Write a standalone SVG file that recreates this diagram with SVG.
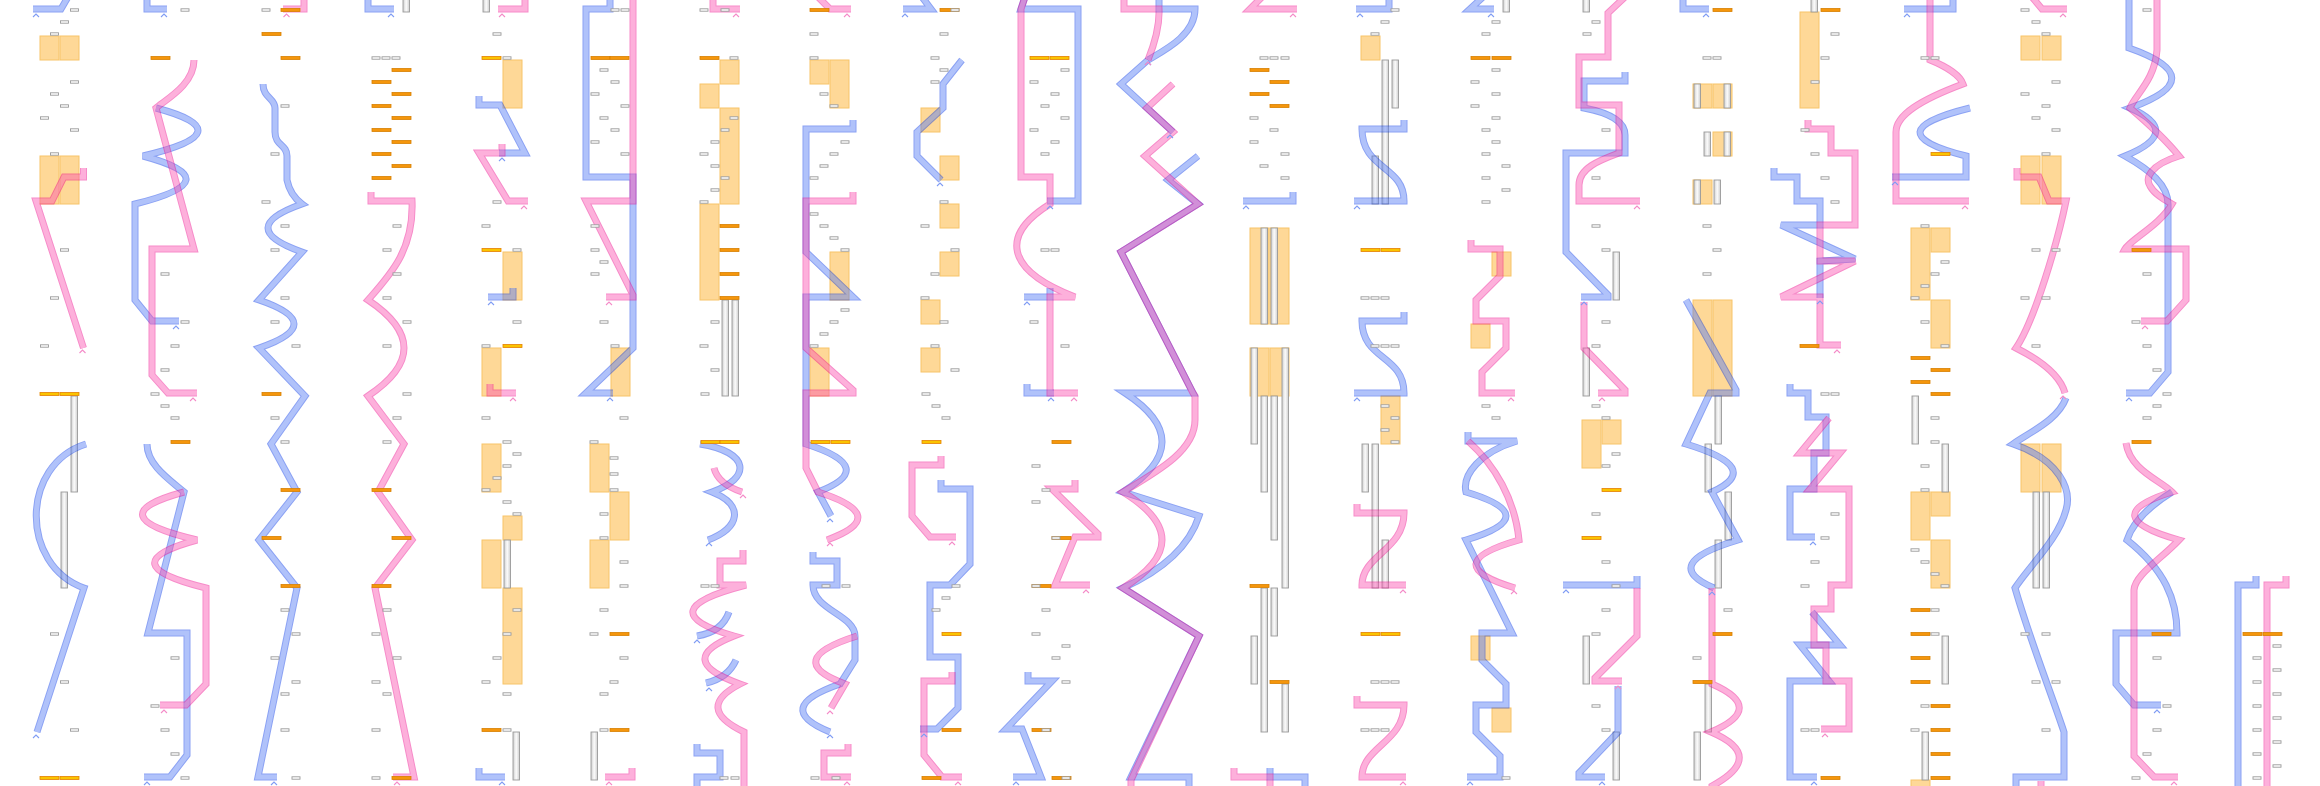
<svg xmlns="http://www.w3.org/2000/svg" xmlns:xlink="http://www.w3.org/1999/xlink" width="2320" height="786" viewBox="0 0 2320 786">
<style>
.bx{fill:#fed897;stroke:#f7c468;stroke-width:1}
.bd{fill:url(#gb);stroke:#9a9a9a;stroke-width:.9}
.B,.P{opacity:.45}
.B .e{fill:none;stroke:#0033e6;stroke-width:7}
.B .f{fill:none;stroke:#527af6;stroke-width:5}
.P .e{fill:none;stroke:#ed0289;stroke-width:7}
.P .f{fill:none;stroke:#fb52b1;stroke-width:5}
</style>
<defs>
<linearGradient id="gy" x1="0" y1="0" x2="0" y2="1"><stop offset="0" stop-color="#f28c00"/><stop offset=".5" stop-color="#ffe000"/><stop offset="1" stop-color="#f28c00"/></linearGradient>
<linearGradient id="gb" x1="0" y1="0" x2="1" y2="0"><stop offset="0" stop-color="#cfcfcf"/><stop offset=".5" stop-color="#fbfbfb"/><stop offset="1" stop-color="#cfcfcf"/></linearGradient>
<rect id="r" x="0" y="-1.2" width="8" height="2.4" fill="#fff" stroke="#9a9a9a" stroke-width=".9"/>
<rect id="o" x="0" y="-1.5" width="19" height="3" fill="#f5960c" stroke="#d77f00" stroke-width=".8"/>
<rect id="g" x="0" y="-1.5" width="19" height="3" fill="url(#gy)" stroke="#e58600" stroke-width=".8"/>
<polyline id="cb" points="-3,3 0,0 3,3" fill="none" stroke="#7f9cf4" stroke-width="1.1"/>
<polyline id="cp" points="-3,3 0,0 3,3" fill="none" stroke="#f48bc8" stroke-width="1.1"/>
<path id="b1" d="M68 -3 L61 9 L33 9"/>
<path id="b2" d="M86 444 C20 465 20 565 84 588 L37 732"/>
<path id="b3" d="M147 -3 L147 9 L167 9"/>
<path id="b4" d="M156 108 Q246 132 143 156 Q233 180 135 204 L135 300 L152 321 L179 321"/>
<path id="b5" d="M147 444 C147 465 170 480 184 492 L148 633 L187 633 L187 755 L170 777 L144 777"/>
<path id="b6" d="M263 84 C263 98 275 98 275 108 L275 132 C275 146 287 144 287 156 L287 180 Q290 195 302 204 Q234 228 302 252 L259 300 Q329 324 259 348 L305 396 L271 444 L297 492 L259 540 L297 588 L258 777 L277 777"/>
<path id="b7" d="M368 -3 L368 9 L394 9"/>
<path id="b8" d="M479 96 L479 105 L500 105 L525 153 L499 153"/>
<path id="b9" d="M513 288 L513 297 L488 297"/>
<path id="b10" d="M479 768 L479 777 L505 777"/>
<path id="b11" d="M610 -3 L610 9 L586 9 L586 177 L633 177 L633 348 L586 393 L613 393"/>
<path id="b12" d="M700 444 C750 452 752 478 712 492 C745 505 740 528 708 540"/>
<path id="b13" d="M729 612 Q722 632 697 636"/>
<path id="b14" d="M736 660 Q728 678 706 683"/>
<path id="b15" d="M697 744 L697 753 L720 753 L720 777 L697 777 L697 790"/>
<path id="b16" d="M853 120 L853 129 L806 129 L806 252 L853 297 L806 297 L806 444 Q880 468 818 492 L831 516"/>
<path id="b17" d="M813 552 L813 561 L837 561 L837 585 L813 585 C813 610 855 615 855 636 L855 660 L840 684 Q771 708 830 732"/>
<path id="b18" d="M922 -3 L931 9 L903 9"/>
<path id="b19" d="M962 60 L943 84 L943 108 L917 132 L917 156 L941 180"/>
<path id="b20" d="M941 480 L941 489 L970 489 L970 564 L950 585 L930 585 L930 657 L958 657 L958 708 L937 729 L920 729"/>
<path id="b21" d="M1025 -3 L1021 9 L1078 9 L1078 201 L1047 201"/>
<path id="b22" d="M1050 288 L1050 297 L1024 297"/>
<path id="b23" d="M1027 384 L1027 393 L1054 393"/>
<path id="b24" d="M1028 672 L1028 681 L1052 681 L1006 729 L1022 729 L1041 777 L1013 777"/>
<path id="b25" d="M1159 -3 L1159 9 L1195 9 C1195 35 1165 50 1148 60"/>
<path id="b26" d="M1148 60 L1121 84 L1173 132"/>
<path id="b27" d="M1198 156 L1168 180 L1198 204 L1121 252 L1193 393 L1125 393 Q1200 442 1123 492 L1199 516 Q1185 560 1123 588 L1199 636 L1131 777 L1189 777 L1189 790"/>
<path id="b28" d="M1293 192 L1293 201 L1243 201"/>
<path id="b29" d="M1270 768 L1270 777 L1305 777 L1305 790"/>
<path id="b30" d="M1389 -3 L1389 9 L1356 9"/>
<path id="b31" d="M1404 120 L1404 129 L1362 129 C1362 170 1404 165 1404 201 L1354 201"/>
<path id="b32" d="M1404 312 L1404 321 L1362 321 C1362 360 1404 355 1404 393 L1354 393"/>
<path id="b33" d="M1483 -3 L1470 9 L1494 9"/>
<path id="b34" d="M1468 432 L1468 441 L1517 441 C1480 452 1462 475 1466 492 Q1546 516 1466 540 L1512 633 L1482 633 L1482 660 L1506 684 L1506 705 L1476 705 L1476 732 L1500 756 L1500 777 L1467 777"/>
<path id="b35" d="M1625 72 L1625 81 L1584 81 L1584 108 C1605 112 1625 120 1625 135 L1625 153 L1566 153 L1566 252 L1608 295 L1608 297 L1581 297"/>
<path id="b36" d="M1637 576 L1637 585 L1563 585"/>
<path id="b37" d="M1618 686 L1618 732 L1579 773 L1579 777 L1605 777"/>
<path id="b38" d="M1683 -3 L1683 9 L1709 9"/>
<path id="b39" d="M1686 300 L1736 390 L1736 393 L1710 393 L1686 444 Q1765 468 1712 492 L1738 540 Q1658 564 1714 588"/>
<path id="b40" d="M1774 168 L1774 177 L1797 177 L1797 201 L1820 201 L1820 225 L1781 225 L1855 259 L1820 261 L1820 298"/>
<path id="b41" d="M1790 384 L1790 393 L1808 393 L1808 417 L1826 417 L1826 453 L1814 453 L1814 489 L1790 489 L1790 537 L1815 537"/>
<path id="b42" d="M1812 612 L1840 645 L1800 645 L1829 681 L1790 681 L1790 777 L1817 777"/>
<path id="b43" d="M1953 -3 L1953 9 L1904 9"/>
<path id="b44" d="M1970 108 Q1872 132 1966 156 L1966 177 L1892 177"/>
<path id="b45" d="M2066 398 C2058 420 2030 432 2013 444 C2060 460 2072 490 2066 510 C2058 540 2030 565 2015 588 C2030 640 2050 690 2064 732 L2064 777 L2016 777 L2016 790"/>
<path id="b46" d="M2129 -3 L2129 48 Q2214 78 2130 108 Q2184 132 2125 156 C2150 170 2168 185 2168 204 L2168 372 L2150 393 L2126 393"/>
<path id="b47" d="M2172 492 Q2135 515 2127 540 C2165 570 2177 600 2177 633 L2116 633 L2116 684 L2134 705 L2161 705"/>
<path id="b48" d="M2256 576 L2256 585 L2238 585 L2238 790"/>
<path id="p1" d="M83.5 168 L83.5 177 L64 177 L52 201 L36 201 L83.5 348"/>
<path id="p2" d="M194 60 C194 85 165 100 156 108 L194 249 L152 249 L152 375 L168 393 L197 393"/>
<path id="p3" d="M184 492 Q95 516 197 540 Q108 564 206 588 L206 684 L186 705 L160 705"/>
<path id="p4" d="M304 -3 L304 9 L283 9"/>
<path id="p5" d="M371 192 L371 201 L412 201 C414 250 390 275 368 300 Q440 348 368 396 L404 444 L378 492 L412 540 L375 588 L414 777 L393 777"/>
<path id="p6" d="M525 -3 L525 9 L498 9"/>
<path id="p7" d="M502 144 L502 153 L479 153 L508 201 L528 201"/>
<path id="p8" d="M490 384 L490 393 L516 393"/>
<path id="p9" d="M633 -3 L633 201 L586 201 L633 295 L633 297 L606 297"/>
<path id="p10" d="M632 768 L632 777 L605 777"/>
<path id="p11" d="M713 -3 L713 9 L740 9"/>
<path id="p12" d="M714 468 Q718 484 742 492"/>
<path id="p13" d="M743 550 L743 561 L720 561 L720 585 L746 585 Q646 611 734 636 Q673 660 740 684 Q694 708 744 732 L744 790"/>
<path id="p14" d="M818 -3 L830 9 L851 9"/>
<path id="p15" d="M853 192 L853 201 L806 201 L806 348 L853 390 L853 393 L806 393 L806 468 L818 492 Q893 516 827 540"/>
<path id="p16" d="M857 636 Q781 660 845 684 L831 708"/>
<path id="p17" d="M848 744 L848 753 L824 753 L824 777 L851 777"/>
<path id="p18" d="M941 456 L941 465 L912 465 L912 516 L930 537 L956 537"/>
<path id="p19" d="M952 672 L952 681 L924 681 L924 755 L942 777 L962 777"/>
<path id="p20" d="M1025 -3 L1021 9 L1021 177 L1050 177 L1050 204 C1000 235 1005 270 1075 297 L1050 297 L1050 393 L1078 393"/>
<path id="p21" d="M1075 480 L1075 489 L1052 489 L1098 534 L1098 537 L1075 537 L1055 585 L1090 585"/>
<path id="p22" d="M1124 -3 L1124 9 L1159 9 C1160 30 1152 50 1148 60"/>
<path id="p23" d="M1173 84 L1147 108 L1173 132 L1145 156 L1198 204 L1121 252 L1193 393 L1195 396 L1195 420 C1195 450 1160 470 1123 492 Q1201 540 1123 588 L1199 636 L1131 780 L1131 790"/>
<path id="p24" d="M1262 -3 L1250 9 L1297 9"/>
<path id="p25" d="M1234 768 L1234 777 L1270 777 L1270 790"/>
<path id="p26" d="M1357 504 L1357 513 L1404 513 C1404 550 1362 555 1362 585 L1406 585"/>
<path id="p27" d="M1357 696 L1357 705 L1404 705 C1404 742 1362 747 1362 777 L1406 777"/>
<path id="p28" d="M1471 240 L1471 249 L1500 249 L1500 276 L1476 300 L1476 321 L1506 321 L1506 348 L1482 372 L1482 393 L1515 393"/>
<path id="p29" d="M1468 441 C1495 465 1515 500 1519 540 Q1435 564 1515 588"/>
<path id="p30" d="M1625 -3 L1608 13 L1608 57 L1579 57 L1579 105 L1619 105 L1619 153 C1600 160 1579 168 1579 185 L1579 201 L1640 201"/>
<path id="p31" d="M1584 302 L1584 348 L1625 390 L1625 393 L1598 393"/>
<path id="p32" d="M1637 588 L1637 636 L1595 678 L1595 681 L1622 681"/>
<path id="p33" d="M1712 588 L1712 684 Q1767 708 1711 732 Q1767 756 1712 786 L1712 790"/>
<path id="p34" d="M1808 120 L1808 129 L1831 129 L1831 153 L1855 153 L1855 225 L1820 225 L1820 261 L1855 261 L1781 297 L1820 297 L1820 345 L1841 345"/>
<path id="p35" d="M1829 418 L1800 453 L1840 453 L1810 489 L1849 489 L1849 585 L1831 585 L1831 609 L1814 609 L1814 645 L1826 645 L1826 681 L1849 681 L1849 729 L1821 729"/>
<path id="p36" d="M1930 -3 L1930 60 C1945 66 1960 75 1963 84 C1920 100 1896 115 1896 132 L1896 201 L1969 201"/>
<path id="p37" d="M2032 -3 L2042 9 L2067 9"/>
<path id="p38" d="M2017 168 L2017 177 L2039 177 L2049 201 L2066 201 C2058 240 2035 320 2016 348 C2040 360 2060 375 2065 393"/>
<path id="p39" d="M2041 781 L2041 790"/>
<path id="p40" d="M2157 -3 L2157 50 C2155 80 2135 95 2130 108 C2150 125 2170 145 2179 156 C2150 165 2145 178 2150 186 C2155 195 2165 200 2172 204 C2160 225 2130 240 2125 249 L2186 249 L2186 300 L2167 321 L2141 321"/>
<path id="p41" d="M2126 443 C2130 470 2160 480 2172 492 Q2094 516 2179 540 C2160 560 2135 575 2134 590 L2134 756 L2154 777 L2178 777"/>
<path id="p42" d="M2286 576 L2286 585 L2267 585 L2267 790"/>
</defs>
<rect width="2320" height="786" fill="#fff"/>

<g id="col1"><rect class="bx" x="40" y="36" width="19" height="24"/><rect class="bx" x="60" y="36" width="19" height="24"/><rect class="bx" x="40" y="156" width="19" height="48"/><rect class="bx" x="60" y="156" width="19" height="48"/><rect class="bd" x="71" y="396" width="6.5" height="96"/><rect class="bd" x="61" y="492" width="6.5" height="96"/></g>
<g id="col4"><rect class="bd" x="403" y="-2" width="6.5" height="14"/></g>
<g id="col5"><rect class="bd" x="483" y="-2" width="6.5" height="14"/><rect class="bx" x="503" y="60" width="19" height="48"/><rect class="bx" x="503" y="252" width="19" height="48"/><rect class="bx" x="482" y="348" width="19" height="48"/><rect class="bx" x="482" y="444" width="19" height="48"/><rect class="bx" x="503" y="516" width="19" height="24"/><rect class="bx" x="482" y="540" width="19" height="48"/><rect class="bx" x="503" y="588" width="19" height="96"/><rect class="bd" x="504" y="540" width="6.5" height="48"/><rect class="bd" x="513" y="732" width="6.5" height="48"/></g>
<g id="col6"><rect class="bx" x="611" y="348" width="19" height="48"/><rect class="bx" x="590" y="444" width="19" height="48"/><rect class="bx" x="610" y="492" width="19" height="48"/><rect class="bx" x="590" y="540" width="19" height="48"/><rect class="bd" x="591" y="732" width="6.5" height="48"/></g>
<g id="col7"><rect class="bx" x="720" y="60" width="19" height="24"/><rect class="bx" x="700" y="84" width="19" height="24"/><rect class="bx" x="720" y="108" width="19" height="96"/><rect class="bx" x="700" y="204" width="19" height="96"/><rect class="bd" x="722" y="300" width="6.5" height="96"/><rect class="bd" x="732" y="300" width="6.5" height="96"/></g>
<g id="col8"><rect class="bx" x="810" y="60" width="19" height="24"/><rect class="bx" x="830" y="60" width="19" height="48"/><rect class="bx" x="830" y="252" width="19" height="48"/><rect class="bx" x="810" y="348" width="19" height="48"/></g>
<g id="col9"><rect class="bx" x="921" y="108" width="19" height="24"/><rect class="bx" x="940" y="156" width="19" height="24"/><rect class="bx" x="940" y="204" width="19" height="24"/><rect class="bx" x="940" y="252" width="19" height="24"/><rect class="bx" x="921" y="300" width="19" height="24"/><rect class="bx" x="921" y="348" width="19" height="24"/></g>
<g id="col12"><rect class="bx" x="1250" y="228" width="19" height="96"/><rect class="bx" x="1270" y="228" width="19" height="96"/><rect class="bx" x="1250" y="348" width="19" height="48"/><rect class="bx" x="1270" y="348" width="19" height="48"/><rect class="bd" x="1261" y="228" width="6.5" height="96"/><rect class="bd" x="1271" y="228" width="6.5" height="96"/><rect class="bd" x="1251" y="348" width="6.5" height="96"/><rect class="bd" x="1261" y="396" width="6.5" height="96"/><rect class="bd" x="1271" y="396" width="6.5" height="144"/><rect class="bd" x="1282" y="348" width="6.5" height="240"/><rect class="bd" x="1261" y="588" width="6.5" height="144"/><rect class="bd" x="1271" y="588" width="6.5" height="48"/><rect class="bd" x="1251" y="636" width="6.5" height="48"/><rect class="bd" x="1282" y="684" width="6.5" height="48"/></g>
<g id="col13"><rect class="bx" x="1361" y="36" width="19" height="24"/><rect class="bx" x="1381" y="396" width="19" height="48"/><rect class="bd" x="1382" y="60" width="6.5" height="144"/><rect class="bd" x="1392" y="60" width="6.5" height="48"/><rect class="bd" x="1372" y="156" width="6.5" height="48"/><rect class="bd" x="1362" y="444" width="6.5" height="48"/><rect class="bd" x="1372" y="444" width="6.5" height="144"/><rect class="bd" x="1382" y="540" width="6.5" height="48"/></g>
<g id="col14"><rect class="bx" x="1492" y="252" width="19" height="24"/><rect class="bx" x="1471" y="324" width="19" height="24"/><rect class="bx" x="1471" y="636" width="19" height="24"/><rect class="bx" x="1492" y="708" width="19" height="24"/><rect class="bd" x="1503" y="-2" width="6.5" height="14"/></g>
<g id="col15"><rect class="bx" x="1582" y="420" width="19" height="48"/><rect class="bx" x="1602" y="420" width="19" height="24"/><rect class="bd" x="1583" y="-2" width="6.5" height="14"/><rect class="bd" x="1613" y="252" width="6.5" height="48"/><rect class="bd" x="1583" y="348" width="6.5" height="48"/><rect class="bd" x="1583" y="636" width="6.5" height="48"/><rect class="bd" x="1613" y="732" width="6.5" height="48"/></g>
<g id="col16"><rect class="bx" x="1693" y="84" width="19" height="24"/><rect class="bx" x="1713" y="84" width="19" height="24"/><rect class="bx" x="1713" y="132" width="19" height="24"/><rect class="bx" x="1693" y="180" width="19" height="24"/><rect class="bx" x="1693" y="300" width="19" height="96"/><rect class="bx" x="1713" y="300" width="19" height="96"/><rect class="bd" x="1694" y="84" width="6.5" height="24"/><rect class="bd" x="1724" y="84" width="6.5" height="24"/><rect class="bd" x="1704" y="132" width="6.5" height="24"/><rect class="bd" x="1724" y="132" width="6.5" height="24"/><rect class="bd" x="1694" y="180" width="6.5" height="24"/><rect class="bd" x="1714" y="180" width="6.5" height="24"/><rect class="bd" x="1715" y="396" width="6.5" height="48"/><rect class="bd" x="1705" y="444" width="6.5" height="48"/><rect class="bd" x="1725" y="492" width="6.5" height="48"/><rect class="bd" x="1715" y="540" width="6.5" height="48"/><rect class="bd" x="1705" y="684" width="6.5" height="48"/><rect class="bd" x="1694" y="732" width="6.5" height="48"/></g>
<g id="col17"><rect class="bx" x="1800" y="12" width="19" height="96"/><rect class="bd" x="1811" y="-2" width="6.5" height="14"/></g>
<g id="col18"><rect class="bx" x="1911" y="228" width="19" height="72"/><rect class="bx" x="1931" y="228" width="19" height="24"/><rect class="bx" x="1931" y="300" width="19" height="48"/><rect class="bx" x="1911" y="492" width="19" height="48"/><rect class="bx" x="1931" y="492" width="19" height="24"/><rect class="bx" x="1931" y="540" width="19" height="48"/><rect class="bx" x="1911" y="780" width="19" height="10"/><rect class="bd" x="1912" y="396" width="6.5" height="48"/><rect class="bd" x="1942" y="444" width="6.5" height="48"/><rect class="bd" x="1942" y="636" width="6.5" height="48"/><rect class="bd" x="1922" y="732" width="6.5" height="48"/></g>
<g id="col19"><rect class="bx" x="2021" y="36" width="19" height="24"/><rect class="bx" x="2042" y="36" width="19" height="24"/><rect class="bx" x="2021" y="156" width="19" height="48"/><rect class="bx" x="2042" y="156" width="19" height="48"/><rect class="bx" x="2021" y="444" width="19" height="48"/><rect class="bx" x="2042" y="444" width="19" height="48"/><rect class="bd" x="2033" y="492" width="6.5" height="96"/><rect class="bd" x="2043" y="492" width="6.5" height="96"/></g>

<g id="connectors">
<g class="B"><use href="#b1" class="e"/><use href="#b1" class="f"/></g>
<g class="B"><use href="#b2" class="e"/><use href="#b2" class="f"/></g>
<g class="B"><use href="#b3" class="e"/><use href="#b3" class="f"/></g>
<g class="B"><use href="#b4" class="e"/><use href="#b4" class="f"/></g>
<g class="B"><use href="#b5" class="e"/><use href="#b5" class="f"/></g>
<g class="B"><use href="#b6" class="e"/><use href="#b6" class="f"/></g>
<g class="B"><use href="#b7" class="e"/><use href="#b7" class="f"/></g>
<g class="B"><use href="#b8" class="e"/><use href="#b8" class="f"/></g>
<g class="B"><use href="#b9" class="e"/><use href="#b9" class="f"/></g>
<g class="B"><use href="#b10" class="e"/><use href="#b10" class="f"/></g>
<g class="B"><use href="#b11" class="e"/><use href="#b11" class="f"/></g>
<g class="B"><use href="#b12" class="e"/><use href="#b12" class="f"/></g>
<g class="B"><use href="#b13" class="e"/><use href="#b13" class="f"/></g>
<g class="B"><use href="#b14" class="e"/><use href="#b14" class="f"/></g>
<g class="B"><use href="#b15" class="e"/><use href="#b15" class="f"/></g>
<g class="B"><use href="#b16" class="e"/><use href="#b16" class="f"/></g>
<g class="B"><use href="#b17" class="e"/><use href="#b17" class="f"/></g>
<g class="B"><use href="#b18" class="e"/><use href="#b18" class="f"/></g>
<g class="B"><use href="#b19" class="e"/><use href="#b19" class="f"/></g>
<g class="B"><use href="#b20" class="e"/><use href="#b20" class="f"/></g>
<g class="B"><use href="#b21" class="e"/><use href="#b21" class="f"/></g>
<g class="B"><use href="#b22" class="e"/><use href="#b22" class="f"/></g>
<g class="B"><use href="#b23" class="e"/><use href="#b23" class="f"/></g>
<g class="B"><use href="#b24" class="e"/><use href="#b24" class="f"/></g>
<g class="B"><use href="#b25" class="e"/><use href="#b25" class="f"/></g>
<g class="B"><use href="#b26" class="e"/><use href="#b26" class="f"/></g>
<g class="B"><use href="#b27" class="e"/><use href="#b27" class="f"/></g>
<g class="B"><use href="#b28" class="e"/><use href="#b28" class="f"/></g>
<g class="B"><use href="#b29" class="e"/><use href="#b29" class="f"/></g>
<g class="B"><use href="#b30" class="e"/><use href="#b30" class="f"/></g>
<g class="B"><use href="#b31" class="e"/><use href="#b31" class="f"/></g>
<g class="B"><use href="#b32" class="e"/><use href="#b32" class="f"/></g>
<g class="B"><use href="#b33" class="e"/><use href="#b33" class="f"/></g>
<g class="B"><use href="#b34" class="e"/><use href="#b34" class="f"/></g>
<g class="B"><use href="#b35" class="e"/><use href="#b35" class="f"/></g>
<g class="B"><use href="#b36" class="e"/><use href="#b36" class="f"/></g>
<g class="B"><use href="#b37" class="e"/><use href="#b37" class="f"/></g>
<g class="B"><use href="#b38" class="e"/><use href="#b38" class="f"/></g>
<g class="B"><use href="#b39" class="e"/><use href="#b39" class="f"/></g>
<g class="B"><use href="#b40" class="e"/><use href="#b40" class="f"/></g>
<g class="B"><use href="#b41" class="e"/><use href="#b41" class="f"/></g>
<g class="B"><use href="#b42" class="e"/><use href="#b42" class="f"/></g>
<g class="B"><use href="#b43" class="e"/><use href="#b43" class="f"/></g>
<g class="B"><use href="#b44" class="e"/><use href="#b44" class="f"/></g>
<g class="B"><use href="#b45" class="e"/><use href="#b45" class="f"/></g>
<g class="B"><use href="#b46" class="e"/><use href="#b46" class="f"/></g>
<g class="B"><use href="#b47" class="e"/><use href="#b47" class="f"/></g>
<g class="B"><use href="#b48" class="e"/><use href="#b48" class="f"/></g>
<g class="P"><use href="#p1" class="e"/><use href="#p1" class="f"/></g>
<g class="P"><use href="#p2" class="e"/><use href="#p2" class="f"/></g>
<g class="P"><use href="#p3" class="e"/><use href="#p3" class="f"/></g>
<g class="P"><use href="#p4" class="e"/><use href="#p4" class="f"/></g>
<g class="P"><use href="#p5" class="e"/><use href="#p5" class="f"/></g>
<g class="P"><use href="#p6" class="e"/><use href="#p6" class="f"/></g>
<g class="P"><use href="#p7" class="e"/><use href="#p7" class="f"/></g>
<g class="P"><use href="#p8" class="e"/><use href="#p8" class="f"/></g>
<g class="P"><use href="#p9" class="e"/><use href="#p9" class="f"/></g>
<g class="P"><use href="#p10" class="e"/><use href="#p10" class="f"/></g>
<g class="P"><use href="#p11" class="e"/><use href="#p11" class="f"/></g>
<g class="P"><use href="#p12" class="e"/><use href="#p12" class="f"/></g>
<g class="P"><use href="#p13" class="e"/><use href="#p13" class="f"/></g>
<g class="P"><use href="#p14" class="e"/><use href="#p14" class="f"/></g>
<g class="P"><use href="#p15" class="e"/><use href="#p15" class="f"/></g>
<g class="P"><use href="#p16" class="e"/><use href="#p16" class="f"/></g>
<g class="P"><use href="#p17" class="e"/><use href="#p17" class="f"/></g>
<g class="P"><use href="#p18" class="e"/><use href="#p18" class="f"/></g>
<g class="P"><use href="#p19" class="e"/><use href="#p19" class="f"/></g>
<g class="P"><use href="#p20" class="e"/><use href="#p20" class="f"/></g>
<g class="P"><use href="#p21" class="e"/><use href="#p21" class="f"/></g>
<g class="P"><use href="#p22" class="e"/><use href="#p22" class="f"/></g>
<g class="P"><use href="#p23" class="e"/><use href="#p23" class="f"/></g>
<g class="P"><use href="#p24" class="e"/><use href="#p24" class="f"/></g>
<g class="P"><use href="#p25" class="e"/><use href="#p25" class="f"/></g>
<g class="P"><use href="#p26" class="e"/><use href="#p26" class="f"/></g>
<g class="P"><use href="#p27" class="e"/><use href="#p27" class="f"/></g>
<g class="P"><use href="#p28" class="e"/><use href="#p28" class="f"/></g>
<g class="P"><use href="#p29" class="e"/><use href="#p29" class="f"/></g>
<g class="P"><use href="#p30" class="e"/><use href="#p30" class="f"/></g>
<g class="P"><use href="#p31" class="e"/><use href="#p31" class="f"/></g>
<g class="P"><use href="#p32" class="e"/><use href="#p32" class="f"/></g>
<g class="P"><use href="#p33" class="e"/><use href="#p33" class="f"/></g>
<g class="P"><use href="#p34" class="e"/><use href="#p34" class="f"/></g>
<g class="P"><use href="#p35" class="e"/><use href="#p35" class="f"/></g>
<g class="P"><use href="#p36" class="e"/><use href="#p36" class="f"/></g>
<g class="P"><use href="#p37" class="e"/><use href="#p37" class="f"/></g>
<g class="P"><use href="#p38" class="e"/><use href="#p38" class="f"/></g>
<g class="P"><use href="#p39" class="e"/><use href="#p39" class="f"/></g>
<g class="P"><use href="#p40" class="e"/><use href="#p40" class="f"/></g>
<g class="P"><use href="#p41" class="e"/><use href="#p41" class="f"/></g>
<g class="P"><use href="#p42" class="e"/><use href="#p42" class="f"/></g>
<g id="carets">
<use href="#cb" x="36" y="14"/><use href="#cb" x="36" y="735"/><use href="#cb" x="164" y="14"/><use href="#cb" x="176" y="326"/><use href="#cb" x="147" y="782"/><use href="#cb" x="274" y="782"/><use href="#cb" x="391" y="14"/><use href="#cb" x="502" y="158"/><use href="#cb" x="491" y="302"/><use href="#cb" x="502" y="782"/><use href="#cb" x="610" y="398"/><use href="#cb" x="709" y="543"/><use href="#cb" x="697" y="640"/><use href="#cb" x="709" y="688"/><use href="#cb" x="830" y="519"/><use href="#cb" x="830" y="735"/><use href="#cb" x="905" y="14"/><use href="#cb" x="940" y="183"/><use href="#cb" x="924" y="734"/><use href="#cb" x="1050" y="206"/><use href="#cb" x="1027" y="302"/><use href="#cb" x="1051" y="398"/><use href="#cb" x="1016" y="782"/><use href="#cb" x="1170" y="135"/><use href="#cb" x="1148" y="62"/><use href="#cb" x="1246" y="206"/><use href="#cb" x="1360" y="14"/><use href="#cb" x="1357" y="206"/><use href="#cb" x="1357" y="398"/><use href="#cb" x="1491" y="14"/><use href="#cb" x="1470" y="782"/><use href="#cb" x="1584" y="302"/><use href="#cb" x="1566" y="590"/><use href="#cb" x="1602" y="782"/><use href="#cb" x="1706" y="14"/><use href="#cb" x="1712" y="592"/><use href="#cb" x="1820" y="301"/><use href="#cb" x="1813" y="542"/><use href="#cb" x="1814" y="782"/><use href="#cb" x="1907" y="14"/><use href="#cb" x="1895" y="182"/><use href="#cb" x="2129" y="398"/><use href="#cb" x="2157" y="710"/>
<use href="#cp" x="82.5" y="350"/><use href="#cp" x="193" y="398"/><use href="#cp" x="164" y="710"/><use href="#cp" x="286.5" y="14"/><use href="#cp" x="397" y="782"/><use href="#cp" x="502" y="14"/><use href="#cp" x="524" y="206"/><use href="#cp" x="513" y="398"/><use href="#cp" x="609" y="302"/><use href="#cp" x="609" y="782"/><use href="#cp" x="736" y="14"/><use href="#cp" x="743" y="495"/><use href="#cp" x="847" y="14"/><use href="#cp" x="830" y="543"/><use href="#cp" x="830" y="711"/><use href="#cp" x="847" y="782"/><use href="#cp" x="952" y="542"/><use href="#cp" x="958" y="782"/><use href="#cp" x="1074" y="398"/><use href="#cp" x="1086" y="590"/><use href="#cp" x="1148" y="62"/><use href="#cp" x="1293" y="14"/><use href="#cp" x="1403" y="590"/><use href="#cp" x="1403" y="782"/><use href="#cp" x="1511" y="398"/><use href="#cp" x="1514" y="591"/><use href="#cp" x="1637" y="206"/><use href="#cp" x="1602" y="398"/><use href="#cp" x="1618" y="686"/><use href="#cp" x="1837" y="350"/><use href="#cp" x="1825" y="734"/><use href="#cp" x="1965" y="206"/><use href="#cp" x="2063" y="14"/><use href="#cp" x="2063" y="396"/><use href="#cp" x="2145" y="326"/><use href="#cp" x="2174" y="782"/>
</g>
</g>

<g id="marks-col1"><use href="#g" x="40" y="394"/><use href="#g" x="60" y="394"/><use href="#g" x="40" y="778"/><use href="#g" x="60" y="778"/><use href="#r" x="70.5" y="10"/><use href="#r" x="60.5" y="22"/><use href="#r" x="50.5" y="34"/><use href="#r" x="70.5" y="82"/><use href="#r" x="50.5" y="94"/><use href="#r" x="60.5" y="106"/><use href="#r" x="40.5" y="118"/><use href="#r" x="70.5" y="130"/><use href="#r" x="50.5" y="154"/><use href="#r" x="60.5" y="250"/><use href="#r" x="50.5" y="298"/><use href="#r" x="40.5" y="346"/><use href="#r" x="50.5" y="634"/><use href="#r" x="60.5" y="682"/><use href="#r" x="70.5" y="730"/></g>
<g id="marks-col2"><use href="#o" x="151" y="58"/><use href="#o" x="171" y="442"/><use href="#r" x="181" y="10"/><use href="#r" x="161" y="274"/><use href="#r" x="181" y="322"/><use href="#r" x="171" y="346"/><use href="#r" x="161" y="370"/><use href="#r" x="151" y="394"/><use href="#r" x="161" y="406"/><use href="#r" x="171" y="418"/><use href="#r" x="171" y="658"/><use href="#r" x="151" y="706"/><use href="#r" x="161" y="730"/><use href="#r" x="171" y="754"/><use href="#r" x="181" y="778"/></g>
<g id="marks-col3"><use href="#o" x="281" y="10"/><use href="#o" x="262" y="34"/><use href="#o" x="281" y="58"/><use href="#o" x="262" y="394"/><use href="#o" x="281" y="490"/><use href="#o" x="262" y="538"/><use href="#o" x="281" y="586"/><use href="#r" x="262" y="10"/><use href="#r" x="281" y="106"/><use href="#r" x="271" y="154"/><use href="#r" x="262" y="202"/><use href="#r" x="281" y="226"/><use href="#r" x="271" y="250"/><use href="#r" x="281" y="298"/><use href="#r" x="271" y="322"/><use href="#r" x="292" y="346"/><use href="#r" x="271" y="418"/><use href="#r" x="281" y="442"/><use href="#r" x="281" y="610"/><use href="#r" x="292" y="634"/><use href="#r" x="271" y="658"/><use href="#r" x="292" y="682"/><use href="#r" x="281" y="694"/><use href="#r" x="281" y="730"/><use href="#r" x="292" y="778"/></g>
<g id="marks-col4"><use href="#o" x="392" y="70"/><use href="#o" x="392" y="94"/><use href="#o" x="392" y="118"/><use href="#o" x="392" y="142"/><use href="#o" x="392" y="166"/><use href="#o" x="372" y="82"/><use href="#o" x="372" y="106"/><use href="#o" x="372" y="130"/><use href="#o" x="372" y="154"/><use href="#o" x="372" y="178"/><use href="#o" x="372" y="490"/><use href="#o" x="392" y="538"/><use href="#o" x="372" y="586"/><use href="#o" x="392" y="778"/><use href="#r" x="372" y="58"/><use href="#r" x="382" y="58"/><use href="#r" x="392" y="58"/><use href="#r" x="393" y="226"/><use href="#r" x="383" y="250"/><use href="#r" x="393" y="274"/><use href="#r" x="383" y="298"/><use href="#r" x="403" y="322"/><use href="#r" x="383" y="346"/><use href="#r" x="403" y="394"/><use href="#r" x="393" y="418"/><use href="#r" x="383" y="442"/><use href="#r" x="383" y="610"/><use href="#r" x="372" y="634"/><use href="#r" x="393" y="658"/><use href="#r" x="372" y="682"/><use href="#r" x="383" y="694"/><use href="#r" x="372" y="730"/><use href="#r" x="372" y="778"/></g>
<g id="marks-col5"><use href="#g" x="482" y="58"/><use href="#g" x="482" y="250"/><use href="#g" x="503" y="346"/><use href="#o" x="482" y="730"/><use href="#r" x="493" y="34"/><use href="#r" x="503" y="58"/><use href="#r" x="493" y="202"/><use href="#r" x="482" y="226"/><use href="#r" x="513" y="250"/><use href="#r" x="513" y="322"/><use href="#r" x="482" y="346"/><use href="#r" x="482" y="418"/><use href="#r" x="503" y="442"/><use href="#r" x="513" y="454"/><use href="#r" x="503" y="466"/><use href="#r" x="493" y="478"/><use href="#r" x="482" y="490"/><use href="#r" x="503" y="502"/><use href="#r" x="513" y="514"/><use href="#r" x="513" y="610"/><use href="#r" x="503" y="634"/><use href="#r" x="493" y="658"/><use href="#r" x="482" y="682"/><use href="#r" x="503" y="694"/><use href="#r" x="503" y="730"/></g>
<g id="marks-col6"><use href="#o" x="591" y="58"/><use href="#o" x="610" y="58"/><use href="#o" x="610" y="634"/><use href="#o" x="610" y="730"/><use href="#r" x="611" y="10"/><use href="#r" x="621" y="10"/><use href="#r" x="600" y="70"/><use href="#r" x="611" y="82"/><use href="#r" x="591" y="94"/><use href="#r" x="621" y="106"/><use href="#r" x="600" y="118"/><use href="#r" x="611" y="130"/><use href="#r" x="591" y="142"/><use href="#r" x="621" y="154"/><use href="#r" x="591" y="226"/><use href="#r" x="591" y="250"/><use href="#r" x="600" y="262"/><use href="#r" x="591" y="274"/><use href="#r" x="600" y="322"/><use href="#r" x="611" y="346"/><use href="#r" x="620" y="418"/><use href="#r" x="590" y="442"/><use href="#r" x="610" y="458"/><use href="#r" x="610" y="474"/><use href="#r" x="610" y="490"/><use href="#r" x="600" y="514"/><use href="#r" x="600" y="538"/><use href="#r" x="620" y="562"/><use href="#r" x="620" y="586"/><use href="#r" x="600" y="610"/><use href="#r" x="590" y="634"/><use href="#r" x="620" y="658"/><use href="#r" x="610" y="682"/><use href="#r" x="600" y="694"/><use href="#r" x="600" y="730"/></g>
<g id="marks-col7"><use href="#o" x="700" y="58"/><use href="#o" x="720" y="226"/><use href="#o" x="720" y="250"/><use href="#o" x="720" y="274"/><use href="#o" x="720" y="298"/><use href="#g" x="701" y="442"/><use href="#g" x="720" y="442"/><use href="#r" x="700" y="10"/><use href="#r" x="721" y="10"/><use href="#r" x="730" y="58"/><use href="#r" x="730" y="118"/><use href="#r" x="721" y="130"/><use href="#r" x="711" y="142"/><use href="#r" x="700" y="154"/><use href="#r" x="711" y="166"/><use href="#r" x="721" y="178"/><use href="#r" x="711" y="190"/><use href="#r" x="700" y="202"/><use href="#r" x="711" y="322"/><use href="#r" x="700" y="346"/><use href="#r" x="711" y="370"/><use href="#r" x="701" y="394"/><use href="#r" x="701" y="586"/><use href="#r" x="711" y="586"/><use href="#r" x="720" y="778"/><use href="#r" x="731" y="778"/></g>
<g id="marks-col8"><use href="#o" x="810" y="10"/><use href="#g" x="811" y="442"/><use href="#g" x="831" y="442"/><use href="#r" x="810" y="34"/><use href="#r" x="810" y="58"/><use href="#r" x="820" y="94"/><use href="#r" x="830" y="106"/><use href="#r" x="841" y="142"/><use href="#r" x="830" y="154"/><use href="#r" x="820" y="166"/><use href="#r" x="810" y="178"/><use href="#r" x="810" y="214"/><use href="#r" x="820" y="226"/><use href="#r" x="830" y="238"/><use href="#r" x="841" y="250"/><use href="#r" x="841" y="310"/><use href="#r" x="830" y="322"/><use href="#r" x="820" y="334"/><use href="#r" x="810" y="346"/><use href="#r" x="822" y="586"/><use href="#r" x="842" y="586"/><use href="#r" x="811" y="778"/><use href="#r" x="832" y="778"/></g>
<g id="marks-col9"><use href="#o" x="940" y="10"/><use href="#g" x="922" y="442"/><use href="#g" x="942" y="634"/><use href="#o" x="942" y="730"/><use href="#o" x="922" y="778"/><use href="#r" x="951" y="10"/><use href="#r" x="940" y="34"/><use href="#r" x="931" y="58"/><use href="#r" x="940" y="70"/><use href="#r" x="931" y="82"/><use href="#r" x="940" y="202"/><use href="#r" x="921" y="226"/><use href="#r" x="951" y="250"/><use href="#r" x="931" y="274"/><use href="#r" x="921" y="298"/><use href="#r" x="940" y="322"/><use href="#r" x="931" y="346"/><use href="#r" x="951" y="370"/><use href="#r" x="922" y="394"/><use href="#r" x="932" y="406"/><use href="#r" x="942" y="418"/><use href="#r" x="952" y="586"/><use href="#r" x="942" y="598"/><use href="#r" x="932" y="610"/></g>
<g id="marks-col10"><use href="#g" x="1030" y="58"/><use href="#g" x="1050" y="58"/><use href="#o" x="1052" y="442"/><use href="#o" x="1052" y="538"/><use href="#o" x="1032" y="586"/><use href="#o" x="1032" y="730"/><use href="#o" x="1052" y="778"/><use href="#r" x="1061" y="70"/><use href="#r" x="1030" y="82"/><use href="#r" x="1051" y="94"/><use href="#r" x="1041" y="106"/><use href="#r" x="1061" y="118"/><use href="#r" x="1030" y="130"/><use href="#r" x="1051" y="142"/><use href="#r" x="1041" y="154"/><use href="#r" x="1041" y="250"/><use href="#r" x="1051" y="250"/><use href="#r" x="1030" y="322"/><use href="#r" x="1061" y="346"/><use href="#r" x="1032" y="466"/><use href="#r" x="1042" y="490"/><use href="#r" x="1032" y="502"/><use href="#r" x="1052" y="538"/><use href="#r" x="1032" y="586"/><use href="#r" x="1042" y="610"/><use href="#r" x="1032" y="634"/><use href="#r" x="1062" y="646"/><use href="#r" x="1052" y="658"/><use href="#r" x="1062" y="682"/><use href="#r" x="1042" y="730"/><use href="#r" x="1062" y="778"/></g>
<g id="marks-col12"><use href="#o" x="1250" y="70"/><use href="#o" x="1270" y="82"/><use href="#o" x="1250" y="94"/><use href="#o" x="1270" y="106"/><use href="#o" x="1250" y="586"/><use href="#o" x="1270" y="682"/><use href="#r" x="1260" y="58"/><use href="#r" x="1270" y="58"/><use href="#r" x="1281" y="58"/><use href="#r" x="1250" y="118"/><use href="#r" x="1270" y="130"/><use href="#r" x="1250" y="142"/><use href="#r" x="1281" y="154"/><use href="#r" x="1260" y="166"/><use href="#r" x="1281" y="178"/></g>
<g id="marks-col13"><use href="#g" x="1361" y="250"/><use href="#g" x="1381" y="250"/><use href="#g" x="1361" y="634"/><use href="#g" x="1381" y="634"/><use href="#r" x="1391" y="10"/><use href="#r" x="1381" y="22"/><use href="#r" x="1371" y="34"/><use href="#r" x="1361" y="298"/><use href="#r" x="1371" y="298"/><use href="#r" x="1381" y="298"/><use href="#r" x="1371" y="346"/><use href="#r" x="1381" y="346"/><use href="#r" x="1391" y="346"/><use href="#r" x="1381" y="406"/><use href="#r" x="1391" y="418"/><use href="#r" x="1381" y="430"/><use href="#r" x="1391" y="442"/><use href="#r" x="1371" y="682"/><use href="#r" x="1381" y="682"/><use href="#r" x="1391" y="682"/><use href="#r" x="1361" y="730"/><use href="#r" x="1371" y="730"/><use href="#r" x="1381" y="730"/></g>
<g id="marks-col14"><use href="#o" x="1471" y="58"/><use href="#o" x="1492" y="58"/><use href="#r" x="1492" y="22"/><use href="#r" x="1482" y="34"/><use href="#r" x="1492" y="70"/><use href="#r" x="1471" y="82"/><use href="#r" x="1492" y="94"/><use href="#r" x="1471" y="106"/><use href="#r" x="1492" y="118"/><use href="#r" x="1482" y="130"/><use href="#r" x="1492" y="142"/><use href="#r" x="1482" y="154"/><use href="#r" x="1502" y="166"/><use href="#r" x="1482" y="178"/><use href="#r" x="1502" y="190"/><use href="#r" x="1482" y="202"/><use href="#r" x="1482" y="406"/><use href="#r" x="1492" y="418"/><use href="#r" x="1502" y="778"/></g>
<g id="marks-col15"><use href="#g" x="1602" y="490"/><use href="#g" x="1582" y="538"/><use href="#r" x="1592" y="22"/><use href="#r" x="1583" y="34"/><use href="#r" x="1602" y="130"/><use href="#r" x="1592" y="178"/><use href="#r" x="1592" y="226"/><use href="#r" x="1602" y="250"/><use href="#r" x="1602" y="322"/><use href="#r" x="1592" y="346"/><use href="#r" x="1592" y="406"/><use href="#r" x="1602" y="418"/><use href="#r" x="1612" y="454"/><use href="#r" x="1602" y="466"/><use href="#r" x="1592" y="514"/><use href="#r" x="1602" y="562"/><use href="#r" x="1612" y="586"/><use href="#r" x="1602" y="610"/><use href="#r" x="1592" y="634"/><use href="#r" x="1592" y="706"/><use href="#r" x="1602" y="730"/></g>
<g id="marks-col16"><use href="#o" x="1713" y="10"/><use href="#o" x="1713" y="634"/><use href="#o" x="1693" y="682"/><use href="#r" x="1703" y="58"/><use href="#r" x="1713" y="58"/><use href="#r" x="1703" y="226"/><use href="#r" x="1713" y="250"/><use href="#r" x="1703" y="274"/><use href="#r" x="1724" y="610"/><use href="#r" x="1693" y="658"/></g>
<g id="marks-col17"><use href="#o" x="1821" y="10"/><use href="#o" x="1800" y="346"/><use href="#o" x="1821" y="778"/><use href="#r" x="1831" y="34"/><use href="#r" x="1821" y="58"/><use href="#r" x="1811" y="82"/><use href="#r" x="1801" y="130"/><use href="#r" x="1811" y="154"/><use href="#r" x="1821" y="178"/><use href="#r" x="1831" y="202"/><use href="#r" x="1821" y="394"/><use href="#r" x="1831" y="394"/><use href="#r" x="1831" y="514"/><use href="#r" x="1821" y="538"/><use href="#r" x="1811" y="562"/><use href="#r" x="1801" y="586"/><use href="#r" x="1801" y="730"/><use href="#r" x="1811" y="730"/></g>
<g id="marks-col18"><use href="#g" x="1931" y="154"/><use href="#o" x="1911" y="358"/><use href="#o" x="1931" y="370"/><use href="#o" x="1911" y="382"/><use href="#o" x="1931" y="394"/><use href="#o" x="1911" y="610"/><use href="#o" x="1911" y="634"/><use href="#o" x="1911" y="658"/><use href="#o" x="1911" y="682"/><use href="#o" x="1931" y="706"/><use href="#o" x="1931" y="730"/><use href="#o" x="1931" y="754"/><use href="#o" x="1931" y="778"/><use href="#r" x="1921" y="58"/><use href="#r" x="1931" y="58"/><use href="#r" x="1921" y="226"/><use href="#r" x="1941" y="262"/><use href="#r" x="1931" y="274"/><use href="#r" x="1921" y="286"/><use href="#r" x="1911" y="298"/><use href="#r" x="1921" y="322"/><use href="#r" x="1941" y="346"/><use href="#r" x="1931" y="418"/><use href="#r" x="1931" y="442"/><use href="#r" x="1921" y="466"/><use href="#r" x="1921" y="490"/><use href="#r" x="1911" y="550"/><use href="#r" x="1921" y="562"/><use href="#r" x="1931" y="574"/><use href="#r" x="1941" y="586"/><use href="#r" x="1931" y="610"/><use href="#r" x="1931" y="634"/><use href="#r" x="1921" y="706"/><use href="#r" x="1911" y="730"/></g>
<g id="marks-col19"><use href="#r" x="2021" y="10"/><use href="#r" x="2032" y="22"/><use href="#r" x="2042" y="34"/><use href="#r" x="2052" y="82"/><use href="#r" x="2021" y="94"/><use href="#r" x="2042" y="106"/><use href="#r" x="2032" y="118"/><use href="#r" x="2052" y="130"/><use href="#r" x="2042" y="154"/><use href="#r" x="2032" y="250"/><use href="#r" x="2052" y="250"/><use href="#r" x="2021" y="298"/><use href="#r" x="2042" y="298"/><use href="#r" x="2032" y="346"/><use href="#r" x="2021" y="634"/><use href="#r" x="2042" y="634"/><use href="#r" x="2032" y="682"/><use href="#r" x="2052" y="682"/><use href="#r" x="2042" y="730"/></g>
<g id="marks-col20"><use href="#o" x="2132" y="250"/><use href="#o" x="2132" y="442"/><use href="#o" x="2152" y="634"/><use href="#r" x="2143" y="10"/><use href="#r" x="2143" y="274"/><use href="#r" x="2132" y="322"/><use href="#r" x="2143" y="346"/><use href="#r" x="2153" y="370"/><use href="#r" x="2163" y="394"/><use href="#r" x="2153" y="406"/><use href="#r" x="2143" y="418"/><use href="#r" x="2153" y="658"/><use href="#r" x="2163" y="706"/><use href="#r" x="2153" y="730"/><use href="#r" x="2143" y="754"/><use href="#r" x="2132" y="778"/></g>
<g id="marks-col21"><use href="#o" x="2243" y="634"/><use href="#o" x="2263" y="634"/><use href="#r" x="2273" y="646"/><use href="#r" x="2273" y="670"/><use href="#r" x="2273" y="694"/><use href="#r" x="2273" y="718"/><use href="#r" x="2273" y="742"/><use href="#r" x="2273" y="766"/><use href="#r" x="2253" y="658"/><use href="#r" x="2253" y="682"/><use href="#r" x="2253" y="706"/><use href="#r" x="2253" y="730"/><use href="#r" x="2253" y="754"/><use href="#r" x="2253" y="778"/></g>
</svg>
